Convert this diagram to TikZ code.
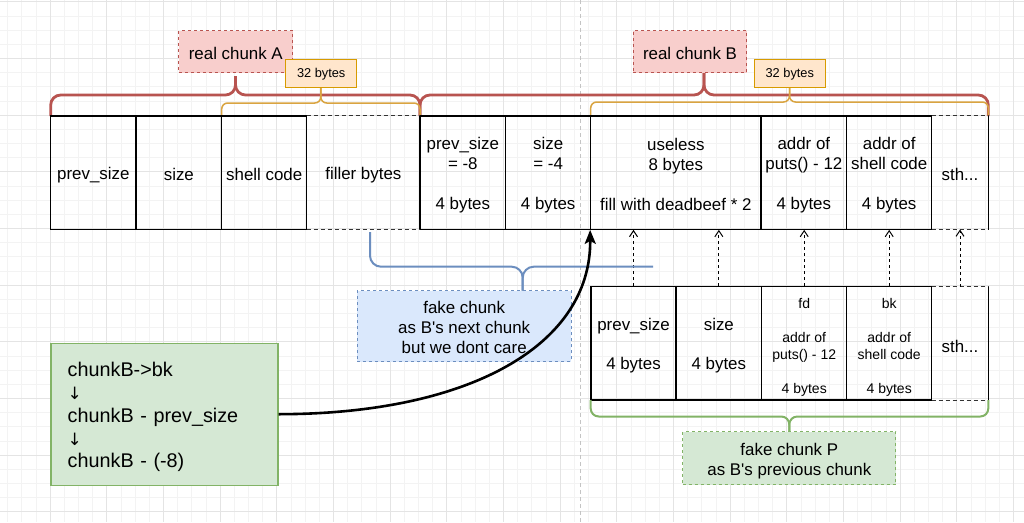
\documentclass[tikz,border=0pt]{standalone}
\usepackage{fontspec}
\setmainfont{Liberation Sans}[Ligatures=TeXOff]
\newfontfamily\arrowfont{DejaVu Sans}
\usetikzlibrary{arrows.meta}
\definecolor{redS}{HTML}{B85450}
\definecolor{redF}{HTML}{F8CECC}
\definecolor{orS}{HTML}{D79B00}
\definecolor{orB}{HTML}{D9A441}
\definecolor{orF}{HTML}{FFE6CC}
\definecolor{blS}{HTML}{6C8EBF}
\definecolor{blF}{HTML}{DAE8FC}
\definecolor{grS}{HTML}{82B366}
\definecolor{grF}{HTML}{D5E8D4}
\definecolor{gridminor}{HTML}{F3F3F3}
\definecolor{gridmajor}{HTML}{E4E4E4}
\definecolor{pagebrk}{HTML}{C4C4C4}
\newcommand\fbig{\fontsize{16.9}{20}\selectfont}
\newcommand\fbigb{\fontsize{16.9}{19.5}\selectfont}
\newcommand\fsmall{\fontsize{14}{17}\selectfont}
\newcommand\ftiny{\fontsize{12.8}{15}\selectfont}
\newcommand\fnote{\fontsize{19.8}{22.75}\selectfont}
\newcommand\darr{{\arrowfont\fontsize{17}{22.75}\selectfont ↓}}
\newcommand\myupT{\rule{0pt}{16.3pt}}
\newcommand\myupB{\rule{0pt}{16.9pt}}
\newcommand\myupS{\rule{0pt}{17.2pt}}
\newcommand\myupN{\rule{0pt}{20.4pt}}
\newcommand\myupL{\rule{0pt}{14.5pt}}
\newcommand\myupP{\rule{0pt}{18pt}}
\begin{document}
\begin{tikzpicture}[x=1pt,y=-1pt,
  minorgrid/.style={draw=gridminor, line width=0.6pt},
  majorgrid/.style={draw=gridmajor, line width=0.8pt},
  memcell/.style={draw=black, line width=1.1pt, minimum height=113.3pt, inner sep=0pt, align=center, font=\fbig, text=black},
  opencell/.style={minimum height=113.3pt, inner sep=0pt, align=center, font=\fbig, text=black},
  solidedge/.style={draw=black, line width=1.1pt},
  dashedge/.style={draw=black!80, line width=1.1pt, dash pattern=on 4pt off 3pt},
  redlabel/.style={draw=redS, fill=redF, line width=1pt, dash pattern=on 3pt off 3pt, inner sep=0pt, font=\fbig, text=black},
  bytelabel/.style={draw=orS, fill=orF, line width=1pt, inner sep=0pt, font=\ftiny, text=black, minimum width=71pt, minimum height=28.4pt},
  bluelabel/.style={draw=blS, fill=blF, line width=1pt, dash pattern=on 3pt off 3pt, inner sep=0pt, font=\fbig, align=center, text=black},
  greenlabel/.style={draw=grS, fill=grF, line width=1pt, dash pattern=on 3pt off 3pt, inner sep=0pt, font=\fbig, align=center, text=black},
  notebox/.style={draw=grS, fill=grF, line width=1.1pt, inner xsep=16.7pt, inner ysep=0pt, text width=193.6pt, minimum height=141.7pt, align=left, font=\fnote, text=black},
  redbrace/.style={draw=redS, line width=2.8pt, rounded corners=10pt},
  orbrace/.style={draw=orB, line width=1.5pt, rounded corners=6pt},
  blbrace/.style={draw=blS, line width=2pt, rounded corners=11pt},
  grbrace/.style={draw=grS, line width=2pt, rounded corners=8pt},
  ptrarrow/.style={draw=black, line width=1pt, dash pattern=on 3pt off 3pt, -{Straight Barb[length=6pt,width=8pt,line width=1pt]}},
  curvearrow/.style={draw=black, line width=2.6pt, -{Stealth[length=14pt,width=11pt,inset=3pt]}}
]
\useasboundingbox (0,0) rectangle (1024,522);
\fill[white] (0,0) rectangle (1024,522);
% grid
\foreach \i in {-3,...,69} \draw[minorgrid] ({50+14.16667*\i},0) -- ({50+14.16667*\i},522);
\foreach \j in {-8,...,28} \draw[minorgrid] (0,{115+14.16667*\j}) -- (1024,{115+14.16667*\j});
\foreach \i in {0,...,17} \draw[majorgrid] ({50+56.6667*\i},0) -- ({50+56.6667*\i},522);
\foreach \j in {-2,...,7} \draw[majorgrid] (0,{115+56.6667*\j}) -- (1024,{115+56.6667*\j});
\draw[pagebrk, line width=0.8pt, dash pattern=on 4pt off 3pt] (580.7,0) -- (580.7,522);

% braces on top
\draw[redbrace] (50.7,116) -- (50.7,95) -- (235.5,95) -- (235.5,76);
\draw[redbrace] (420,116) -- (420,95) -- (235.5,95) -- (235.5,76);
\draw[redbrace] (420,116) -- (420,95) -- (704,95) -- (704,73);
\draw[redbrace] (988.3,116) -- (988.3,95) -- (704,95) -- (704,73);
\draw[orbrace] (221.7,116) -- (221.7,103) -- (320.8,103) -- (320.8,87.7);
\draw[orbrace] (420,116) -- (420,103) -- (320.8,103) -- (320.8,87.7);
\draw[orbrace] (590.7,116) -- (590.7,102) -- (789.5,102) -- (789.5,87.7);
\draw[orbrace] (988.3,116) -- (988.3,102) -- (789.5,102) -- (789.5,87.7);

% labels on top
\node[redlabel, minimum width=113.7pt, minimum height=42.3pt] (realA) at (235.8,51.8) {\rule{0pt}{15pt}real chunk A};
\node[redlabel, minimum width=113.4pt, minimum height=42.3pt] (realB) at (690,51.8) {\rule{0pt}{15pt}real chunk B};
\node[bytelabel] (bytesA) at (321.2,73.5) {\rule{0pt}{11pt}32 bytes};
\node[bytelabel] (bytesB) at (789.8,73.5) {\rule{0pt}{11pt}32 bytes};

% top row
\node[memcell, minimum width=85.3pt] (t1) at (93.35,172.65) {\myupT prev\_size};
\node[memcell, minimum width=85.7pt] (t2) at (178.85,172.65) {\myupT size};
\node[memcell, minimum width=85pt] (t3) at (264.2,172.65) {\myupT shell code};
\node[opencell, minimum width=113.3pt] (t4) at (363.35,172.65) {\myupT filler bytes};
\node[memcell, minimum width=85.7pt] (t5) at (462.85,172.65) {\myupT prev\_size\\= -8\\~\\4 bytes};
\node[memcell, minimum width=85pt] (t6) at (548.2,172.65) {\myupT size\\= -4\\~\\4 bytes};
\node[memcell, minimum width=170.3pt] (t7) at (675.85,172.65) {\myupT useless\\8 bytes\\~\\fill with deadbeef * 2};
\node[memcell, minimum width=85.7pt] (t8) at (803.85,172.65) {\myupT addr of\\puts() - 12\\~\\4 bytes};
\node[memcell, minimum width=85pt] (t9) at (889.2,172.65) {\myupT addr of\\shell code\\~\\4 bytes};
\node[opencell, minimum width=56.6pt] (t10) at (960,172.65) {\myupT sth...};
\draw[dashedge] (t4.north west) -- (t4.north east);
\draw[dashedge] (t4.south west) -- (t4.south east);
\draw[dashedge] (t10.north west) -- (t10.north east);
\draw[dashedge] (t10.south west) -- (t10.south east);
\draw[solidedge] (t10.north east) -- (t10.south east);

% bottom row
\node[memcell, minimum width=85pt, font=\fbigb] (b1) at (633.5,343.35) {\myupB prev\_size\\~\\4 bytes};
\node[memcell, minimum width=85.7pt, font=\fbigb] (b2) at (718.85,343.35) {\myupB size\\~\\4 bytes};
\node[memcell, minimum width=85pt, font=\fsmall] (b3) at (804.2,343.35) {\myupS fd\\~\\addr of\\puts() - 12\\~\\4 bytes};
\node[memcell, minimum width=85pt, font=\fsmall] (b4) at (889.2,343.35) {\myupS bk\\~\\addr of\\shell code\\~\\4 bytes};
\node[opencell, minimum width=56.6pt] (b5) at (960,343.35) {\myupP sth...};
\draw[dashedge] (b5.north west) -- (b5.north east);
\draw[dashedge] (b5.south west) -- (b5.south east);
\draw[solidedge] (b5.north east) -- (b5.south east);

% pointer arrows
\draw[ptrarrow] (b1.north) -- (b1.north |- t7.south);
\draw[ptrarrow] (b2.north) -- (b2.north |- t7.south);
\draw[ptrarrow] (b3.north) -- (b3.north |- t8.south);
\draw[ptrarrow] (b4.north) -- (b4.north |- t9.south);
\draw[ptrarrow] (b5.north) -- (b5.north |- t10.south);

% blue brace and fake chunk
\draw[blbrace] (370,232) -- (370,266.7) -- (522.7,266.7) -- (522.7,290.7);
\draw[blbrace] (653,266.7) -- (522.7,266.7) -- (522.7,290.7);
\node[bluelabel, minimum width=213.7pt, minimum height=71pt] (fakeN) at (464.2,326.2) {\myupL fake chunk\\as B's next chunk\\but we dont care};

% green brace and fake chunk P
\draw[grbrace] (590.7,400) -- (590.7,416.5) -- (789.3,416.5) -- (789.3,431.7);
\draw[grbrace] (988.3,400) -- (988.3,416.5) -- (789.3,416.5) -- (789.3,431.7);
\node[greenlabel, minimum width=213.3pt, minimum height=53.3pt] (fakeP) at (789.3,458.3) {\myupP fake chunk P\\as B's previous chunk};

% note box and curved arrow
\node[notebox] (note) at (164.5,414.2) {\myupN chunkB->bk\\\darr\\chunkB - prev\_size\\\darr\\chunkB - (-8)};
\draw[curvearrow] (note.east) .. controls (470,414) and (591,345) .. (t7.south west);
\end{tikzpicture}
\end{document}
